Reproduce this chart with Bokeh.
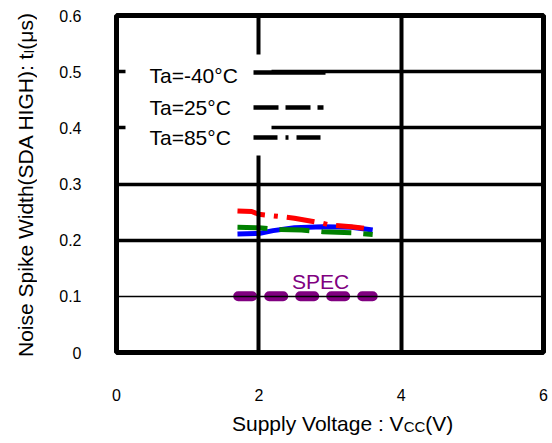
from bokeh.plotting import figure
from bokeh.models import FixedTicker, Grid, Label, Range1d, Div
from bokeh.layouts import row, column
from bokeh.embed import file_html
from bokeh.resources import INLINE

# ---------------- data ----------------
x_ticks = [0, 2, 4, 6]
x_tick_labels = ["0", "2", "4", "6"]
y_ticks = [0, 0.1, 0.2, 0.3, 0.4, 0.5, 0.6]
y_tick_labels = ["0", "0.1", "0.2", "0.3", "0.4", "0.5", "0.6"]

# Ta = -40 C  (blue, solid)
ta_m40_v = [1.7, 2.0, 2.2, 2.5, 2.9, 3.3, 3.6]
ta_m40_t = [0.211, 0.212, 0.217, 0.222, 0.224, 0.223, 0.218]
# Ta = 25 C  (green, dashed)
ta_25_v = [1.7, 2.0, 2.3, 2.6, 2.9, 3.3, 3.6]
ta_25_t = [0.223, 0.222, 0.219, 0.218, 0.215, 0.213, 0.210]
# Ta = 85 C  (red, dash-dot)
ta_85_v = [1.7, 1.9, 2.0, 2.3, 2.5, 2.9, 3.0, 3.3, 3.6]
ta_85_t = [0.252, 0.251, 0.246, 0.242, 0.239, 0.230, 0.227, 0.224, 0.219]
# SPEC limit
spec_v = [1.71, 3.6]
spec_t = [0.1, 0.1]

legend_labels = ["Ta=-40\u00b0C", "Ta=25\u00b0C", "Ta=85\u00b0C"]
x_title_html = "Supply Voltage : V<span style='font-size:15px;vertical-align:-1px'>CC</span>(V)"
y_title_html = "Noise Spike Width(SDA HIGH): t<span style='font-size:14px;vertical-align:-3px'>I</span>(\u03bcs)"

# ---------------- layout ----------------
YT_W = 40                 # width of the y-title column
W, H = 552 - YT_W, 410    # plot size
XT_H = 443 - H            # height of the x-title row
L, R, T, B = 116 - YT_W, 9, 15, 410 - 352
FRAME_W = W - L - R
FRAME_H = H - T - B
X0, X1 = 0, 6
Y0, Y1 = 0, 0.6


def dx(px):
    """picture pixel x -> data x"""
    return X0 + (px - YT_W - L) * (X1 - X0) / FRAME_W


def dy(py):
    """picture pixel y -> data y"""
    return Y0 + (T + FRAME_H - py) * (Y1 - Y0) / FRAME_H


FONT = "Liberation Sans"

p = figure(width=W, height=H, output_backend="svg", toolbar_location=None,
           x_range=Range1d(X0, X1), y_range=Range1d(Y0, Y1),
           min_border_left=L, min_border_right=R, min_border_top=T,
           min_border_bottom=B)
p.background_fill_color = "white"
p.border_fill_color = "white"
p.outline_line_color = "black"
p.outline_line_width = 5

p.xgrid.visible = False
p.ygrid.visible = False
p.add_layout(Grid(dimension=0, ticker=FixedTicker(ticks=[2, 4]),
                  grid_line_color="black", grid_line_width=4))
p.add_layout(Grid(dimension=1, ticker=FixedTicker(ticks=[0.2, 0.3, 0.4, 0.5]),
                  grid_line_color="black", grid_line_width=3.5))
p.add_layout(Grid(dimension=1, ticker=FixedTicker(ticks=[0.1]),
                  grid_line_color="black", grid_line_width=1.5))

for ax in (p.xaxis[0], p.yaxis[0]):
    ax.axis_line_color = None
    ax.major_tick_line_color = None
    ax.minor_tick_line_color = None
    ax.major_label_text_font = FONT
    ax.major_label_text_font_size = "16px"
    ax.major_label_text_color = "black"

p.xaxis[0].ticker = FixedTicker(ticks=x_ticks)
p.xaxis[0].major_label_overrides = dict(zip(x_ticks, x_tick_labels))
p.xaxis[0].major_label_standoff = 30
p.yaxis[0].ticker = FixedTicker(ticks=y_ticks)
p.yaxis[0].major_label_overrides = dict(zip(y_ticks, y_tick_labels))
p.yaxis[0].major_label_standoff = 29

# ---------------- data lines (under the grid) ----------------
r = p.line(spec_v, spec_t, line_color="#800080", line_width=10,
           line_dash="14 17", line_cap="round")
r.level = "image"
r = p.line(ta_m40_v, ta_m40_t, line_color="#0000FF", line_width=5)
r.level = "image"
r = p.line(ta_25_v, ta_25_t, line_color="#008000", line_width=5,
           line_dash="30 12")
r.level = "image"
r = p.line(ta_85_v, ta_85_t, line_color="#FF0000", line_width=5,
           line_dash="28 9 4 9")
r.level = "image"

# ---------------- legend (label then sample) ----------------
p.quad(left=dx(125), right=dx(271), bottom=dy(155), top=dy(54),
       fill_color="white", line_color=None)
row_text_y = [dy(74.5), dy(107), dy(136.5)]
row_line_y = [dy(72), dy(107), dy(137)]
row_line_x1 = [dx(325), dx(323), dx(321)]
row_dash = ["solid", "25 7", "24 8 3 8"]
for lab, ty, ly, lx1, dash in zip(legend_labels, row_text_y, row_line_y,
                                  row_line_x1, row_dash):
    p.add_layout(Label(x=dx(149), y=ty, text=lab, text_font=FONT,
                       text_font_size="21px", text_color="black",
                       text_align="left", text_baseline="middle"))
    p.line([dx(253), lx1], [ly, ly], line_color="black", line_width=4.5,
           line_dash=dash)

# SPEC text
p.add_layout(Label(x=dx(320), y=dy(280.5), text="SPEC", text_font=FONT,
                   text_font_size="21px", text_color="#800080",
                   text_align="center", text_baseline="middle"))

# ---------------- axis titles (HTML, to keep the subscripts) ----------------
y_title = Div(width=YT_W, height=443, margin=0, text=(
    "<div style=\"margin-left:15px;margin-top:13px;height:344px;width:21px;"
    "writing-mode:vertical-rl;transform:rotate(180deg);white-space:nowrap;"
    "font-family:'Liberation Sans';font-size:21px;line-height:21px;"
    "color:black;\">" + y_title_html + "</div>"))
x_title = Div(width=W, height=XT_H, margin=0, text=(
    "<div style=\"margin-left:" + str(232 - YT_W) + "px;padding-top:3px;"
    "white-space:nowrap;font-family:'Liberation Sans';font-size:21px;"
    "line-height:21px;color:black;\">" + x_title_html + "</div>"))

p.margin = 0
page = row(y_title, column(p, x_title, spacing=0), spacing=0)

open("out.html", "w").write(file_html(page, INLINE))
